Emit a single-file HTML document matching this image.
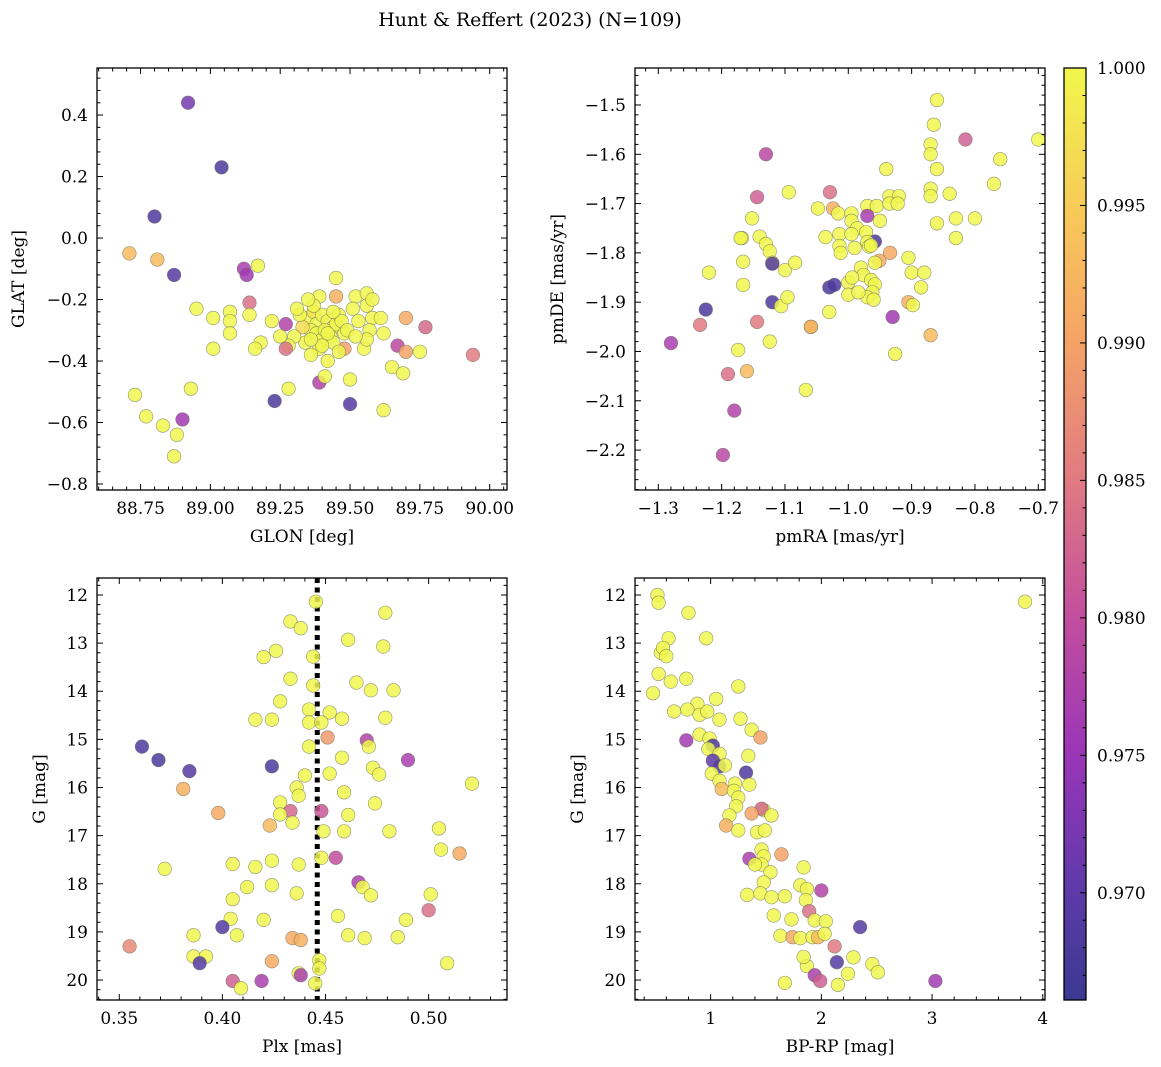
<!DOCTYPE html>
<html><head><meta charset="utf-8">
<style>
html,body{margin:0;padding:0;background:#fff;}
svg{display:block;font-family:"DejaVu Serif","Liberation Serif",serif;}
</style></head>
<body>
<svg id="fig" width="1161" height="1067" viewBox="0 0 1161 1067" xmlns="http://www.w3.org/2000/svg">
<rect x="0" y="0" width="1161" height="1067" fill="#fff"/>
<text x="530" y="26" text-anchor="middle" font-size="19">Hunt &amp; Reffert (2023) (N=109)</text>
</svg>
<script>
// ---- Panel 1: GLON / GLAT ----
const glonVals=[88.92,89.04,88.80,88.71,88.81,88.87,89.12,89.13,89.17,89.14,88.95,89.01,89.07,89.14,89.07,89.22,89.27,89.18,89.16,89.01,89.07,89.45,89.39,89.45,89.52,89.56,89.70,89.77,89.67,89.70,89.75,89.65,89.69,89.94,89.39,89.41,89.50,89.23,89.50,89.62,89.28,88.73,88.77,88.83,88.90,88.93,88.88,88.87,89.48,89.55,89.56,89.58,89.57,89.61,89.62,89.56,89.35,89.37,89.38,89.40,89.42,89.44,89.36,89.38,89.40,89.43,89.45,89.34,89.39,89.41,89.44,89.33,89.36,89.46,89.48,89.30,89.32,89.42,89.37,89.47,89.51,89.53,89.28,89.25,89.44,89.46,89.40,89.35,89.42,89.49,89.31,89.58,89.36,89.27,89.52];
const glatVals=[0.44,0.23,0.07,-0.05,-0.07,-0.12,-0.10,-0.12,-0.09,-0.21,-0.23,-0.26,-0.24,-0.25,-0.27,-0.27,-0.28,-0.34,-0.36,-0.36,-0.31,-0.19,-0.19,-0.13,-0.19,-0.18,-0.26,-0.29,-0.35,-0.37,-0.37,-0.42,-0.44,-0.38,-0.47,-0.45,-0.46,-0.53,-0.54,-0.56,-0.49,-0.51,-0.58,-0.61,-0.59,-0.49,-0.64,-0.71,-0.36,-0.36,-0.22,-0.26,-0.30,-0.26,-0.31,-0.33,-0.26,-0.24,-0.28,-0.25,-0.27,-0.29,-0.30,-0.31,-0.33,-0.32,-0.28,-0.34,-0.36,-0.30,-0.34,-0.29,-0.38,-0.25,-0.31,-0.32,-0.25,-0.40,-0.22,-0.27,-0.23,-0.27,-0.35,-0.32,-0.24,-0.37,-0.35,-0.20,-0.31,-0.30,-0.23,-0.20,-0.33,-0.36,-0.32];
const glonProb=[0.972,0.968,0.968,0.993,0.993,0.969,0.977,0.976,1,0.984,1,1,1,1,1,1,0.978,1,1,1,1,0.992,1,1,1,1,0.991,0.983,0.979,0.990,1,1,1,0.985,0.978,1,1,0.968,0.969,1,1,1,1,1,0.976,1,1,1,0.990,1,1,1,1,1,1,1,1,0.998,1,1,1,1,1,1,1,1,1,1,1,1,1,0.997,1,1,1,1,1,1,1,1,1,1,1,1,1,1,1,1,1,1,1,1,1,0.984,1];

// ---- Panel 2: pmRA / pmDE ----
const pmraVals=[-0.86,-0.865,-0.70,-0.815,-0.76,-0.87,-0.87,-0.86,-0.94,-0.87,-0.84,-0.77,-0.80,-0.83,-0.83,-0.86,-0.935,-0.92,-1.144,-1.094,-1.029,-1.13,-1.048,-1.024,-1.016,-0.97,-0.955,-0.935,-0.922,-0.87,-0.97,-0.995,-0.995,-0.95,-1.152,-0.986,-0.972,-1.036,-1.014,-0.995,-0.958,-1.014,-1.012,-0.99,-0.97,-0.967,-0.964,-0.934,-0.951,-0.958,-0.905,-1.168,-1.166,-1.14,-1.13,-1.124,-1.12,-1.12,-1.10,-1.084,-0.98,-0.976,-0.964,-1.0,-0.994,-0.958,-0.962,-0.97,-1.03,-1.022,-1.0,-0.984,-0.96,-0.90,-0.88,-0.885,-0.905,-1.12,-1.106,-1.096,-1.03,-1.059,-0.93,-1.144,-1.166,-1.22,-1.225,-1.234,-1.28,-1.17,-1.174,-1.16,-1.19,-1.18,-1.198,-1.067,-1.124,-1.059,-0.926,-0.87,-0.898];
const pmdeVals=[-1.49,-1.54,-1.57,-1.57,-1.61,-1.58,-1.60,-1.63,-1.63,-1.67,-1.68,-1.66,-1.73,-1.73,-1.77,-1.74,-1.685,-1.685,-1.687,-1.677,-1.677,-1.60,-1.71,-1.71,-1.72,-1.705,-1.705,-1.70,-1.70,-1.685,-1.725,-1.72,-1.735,-1.735,-1.73,-1.75,-1.758,-1.768,-1.762,-1.762,-1.777,-1.786,-1.80,-1.79,-1.778,-1.787,-1.785,-1.80,-1.816,-1.82,-1.81,-1.77,-1.818,-1.767,-1.782,-1.797,-1.82,-1.822,-1.835,-1.82,-1.83,-1.845,-1.855,-1.86,-1.85,-1.864,-1.88,-1.89,-1.87,-1.865,-1.885,-1.88,-1.895,-1.84,-1.84,-1.87,-1.90,-1.90,-1.908,-1.89,-1.92,-1.95,-1.93,-1.94,-1.865,-1.84,-1.915,-1.946,-1.983,-1.77,-1.997,-2.04,-2.046,-2.12,-2.21,-2.078,-1.98,-1.95,-2.005,-1.967,-1.906];
const pmProb=[1,1,1,0.982,1,1,1,1,1,1,1,1,1,1,1,1,1,1,0.982,1,0.984,0.979,1,0.992,1,1,1,1,1,1,0.977,1,1,1,1,1,1,1,1,1,0.968,1,1,1,1,1,1,0.991,0.991,1,1,1,1,1,1,1,1,0.969,1,1,1,1,1,1,1,1,1,1,0.968,0.968,1,1,1,1,1,1,0.992,0.968,1,1,1,1,0.976,0.985,1,1,0.968,0.985,0.977,1,1,0.993,0.984,0.978,0.979,1,1,0.991,1,0.993,1];

// ---- Panel 3: Plx / G ----
const plxVals=[0.4453,0.479,0.433,0.438,0.426,0.42,0.461,0.478,0.444,0.433,0.444,0.465,0.472,0.483,0.428,0.442,0.452,0.458,0.416,0.424,0.442,0.448,0.479,0.470,0.471,0.451,0.361,0.369,0.384,0.424,0.442,0.490,0.458,0.473,0.476,0.452,0.44,0.521,0.436,0.381,0.437,0.459,0.474,0.428,0.398,0.433,0.428,0.434,0.423,0.448,0.461,0.449,0.459,0.481,0.505,0.506,0.515,0.448,0.455,0.372,0.405,0.416,0.424,0.437,0.466,0.468,0.472,0.412,0.424,0.436,0.405,0.501,0.456,0.404,0.42,0.489,0.40,0.386,0.407,0.461,0.469,0.485,0.434,0.438,0.50,0.355,0.386,0.392,0.389,0.424,0.447,0.509,0.437,0.438,0.405,0.409,0.419,0.445,0.447];
const gPlxVals=[12.14,12.37,12.55,12.69,13.16,13.29,12.93,13.07,13.28,13.74,13.88,13.82,13.98,13.98,14.21,14.38,14.44,14.57,14.59,14.59,14.65,14.65,14.55,15.02,15.15,14.96,15.15,15.43,15.66,15.56,15.15,15.43,15.38,15.59,15.73,15.71,15.75,15.92,16.0,16.03,16.17,16.1,16.33,16.31,16.53,16.49,16.56,16.73,16.79,16.49,16.57,16.91,16.91,16.91,16.85,17.29,17.37,17.46,17.46,17.69,17.59,17.65,17.52,17.6,17.97,18.07,18.24,18.07,18.03,18.2,18.32,18.22,18.67,18.73,18.75,18.75,18.9,19.07,19.07,19.07,19.13,19.11,19.13,19.17,18.55,19.3,19.51,19.51,19.65,19.61,19.59,19.65,19.86,19.9,20.02,20.17,20.02,20.07,19.76];
const plxProb=[1,1,1,1,1,1,1,1,1,1,1,1,1,1,1,1,1,1,1,1,1,1,1,0.978,1,0.989,0.968,0.968,0.969,0.968,1,0.977,1,1,1,1,1,1,1,0.992,1,1,1,1,0.991,0.983,1,1,0.993,0.981,1,1,1,1,1,1,0.991,1,0.98,1,1,1,1,1,0.977,1,1,1,1,1,1,1,1,1,1,1,0.969,1,1,1,1,1,0.991,0.992,0.984,0.987,1,1,0.969,0.991,1,1,1,0.977,0.982,1,0.977,1,1];
const plxMedian=[0.446];

// ---- Panel 4: BP-RP / G ----
const bprpVals=[3.84,0.52,0.53,0.80,0.62,0.96,0.55,0.57,0.60,0.53,0.64,0.78,1.25,0.48,1.05,0.88,0.67,0.79,0.90,0.97,1.08,1.27,0.78,0.90,0.99,1.37,1.45,1.02,0.98,1.08,1.02,1.08,1.13,1.34,1.01,1.32,1.08,1.22,1.35,1.10,1.21,1.25,1.23,1.48,1.46,1.55,1.17,1.37,1.14,1.25,1.42,1.49,1.46,1.48,1.46,1.64,1.35,1.40,1.84,1.54,1.81,1.48,1.87,2.0,1.45,1.55,1.67,1.33,1.86,1.89,1.57,1.73,1.94,2.04,2.35,1.63,1.74,1.81,1.92,1.97,2.03,2.12,2.29,2.14,2.46,1.87,1.84,2.51,2.24,1.94,1.99,2.15,1.67,3.03];
const gCmdVals=[12.14,12.0,12.16,12.37,12.9,12.9,13.2,13.1,13.27,13.64,13.8,13.74,13.9,14.04,14.16,14.26,14.42,14.38,14.49,14.42,14.59,14.57,15.02,14.9,14.98,14.8,14.96,15.13,15.2,15.3,15.44,15.56,15.54,15.34,15.71,15.69,15.86,15.92,15.94,16.03,16.07,16.21,16.39,16.47,16.44,16.58,16.58,16.54,16.79,16.89,16.93,16.89,17.29,17.43,17.6,17.39,17.48,17.6,17.66,17.76,18.03,17.97,18.11,18.14,18.2,18.28,18.26,18.23,18.34,18.57,18.66,18.74,18.76,18.78,18.9,19.08,19.11,19.13,19.11,19.11,19.04,19.3,19.53,19.63,19.67,19.71,19.52,19.84,19.87,19.9,20.02,20.1,20.06,20.02];
const cmdProb=[1,1,1,1,1,1,1,1,1,1,1,1,1,1,1,1,1,1,1,1,1,1,0.976,1,1,1,0.990,0.968,1,1,0.970,0.969,1,1,1,0.968,1,1,1,0.993,1,1,1,1,0.983,1,1,0.990,0.992,1,1,1,1,1,1,0.990,0.977,1,1,1,1,1,1,0.978,1,1,1,1,1,0.984,1,1,1,1,0.969,1,0.991,1,1,0.993,1,0.985,1,0.969,1,1,1,1,1,0.977,0.982,1,1,0.976];

// ---- Colorbar ----
const cbTicks=[1.000,0.995,0.990,0.985,0.980,0.975,0.970];
const cbMin=0.9661, cbMax=1.0;

const NS="http://www.w3.org/2000/svg";
const svg=document.getElementById('fig');
function el(tag,attrs,parent){const e=document.createElementNS(NS,tag);for(const k in attrs)e.setAttribute(k,attrs[k]);(parent||svg).appendChild(e);return e;}

const stops=[[0.9661,[59,57,146]],[0.970,[92,58,168]],[0.975,[154,53,184]],[0.980,[194,78,158]],[0.985,[224,122,130]],[0.990,[245,162,102]],[0.995,[248,203,88]],[1.000,[240,247,76]]];
function cmap(v){
  if(v<=stops[0][0])return 'rgb('+stops[0][1].join(',')+')';
  for(let i=1;i<stops.length;i++){if(v<=stops[i][0]){const a=stops[i-1],b=stops[i];const t=(v-a[0])/(b[0]-a[0]);const c=a[1].map((x,j)=>Math.round(x+(b[1][j]-x)*t));return 'rgb('+c.join(',')+')';}}
  return 'rgb('+stops[stops.length-1][1].join(',')+')';
}
function fmt(v,d){let s=Math.abs(v).toFixed(d);return (v< -1e-9?'\u2212':'')+s;}

function panel(cfg){
  const g=el('g',{});
  
  
  const L=cfg.box[0],T=cfg.box[1],R=cfg.box[2],B=cfg.box[3];
  const sx=v=>L+(v-cfg.xr[0])/(cfg.xr[1]-cfg.xr[0])*(R-L);
  const sy=cfg.yinv? (v=>T+(v-cfg.yr[0])/(cfg.yr[1]-cfg.yr[0])*(B-T)) : (v=>B-(v-cfg.yr[0])/(cfg.yr[1]-cfg.yr[0])*(B-T));
  const clip=el('clipPath',{id:'clip-'+cfg.name},g);
  el('rect',{x:L,y:T,width:R-L,height:B-T},clip);
  const pts=el('g',{'clip-path':'url(#clip-'+cfg.name+')'},g);
  if(cfg.vline){
    const vl=el('line',{x1:sx(cfg.vline[0]),x2:sx(cfg.vline[0]),y1:T,y2:B,stroke:'#000','stroke-width':5,'stroke-dasharray':'5,4.5'},pts);
    
    
  }
  for(let i=0;i<cfg.xs.length;i++){
    const c=el('circle',{cx:sx(cfg.xs[i]),cy:sy(cfg.ys[i]),r:6.8,fill:cmap(cfg.ps[i]),'fill-opacity':0.85,stroke:'#6b6b5a','stroke-width':0.6,'stroke-opacity':0.7},pts);
    
    
  }
  el('rect',{x:L,y:T,width:R-L,height:B-T,fill:'none',stroke:'#000','stroke-width':1.3},g);
  // x ticks
  const xs0=Math.ceil(cfg.xr[0]/cfg.xminor-1e-6);
  for(let k=xs0;k*cfg.xminor<=cfg.xr[1]+1e-9;k++){
    const v=k*cfg.xminor;const x=sx(v);
    const major=Math.abs(v/cfg.xmajor-Math.round(v/cfg.xmajor))<1e-6;
    const len=major?6:3.5;
    el('line',{x1:x,x2:x,y1:B,y2:B-len,stroke:'#000','stroke-width':1},g);
    el('line',{x1:x,x2:x,y1:T,y2:T+len,stroke:'#000','stroke-width':1},g);
    if(major){const t=el('text',{x:x,y:B+24,'text-anchor':'middle','font-size':17},g);t.textContent=fmt(v,cfg.xdec);
      }
  }
  const ys0=Math.ceil(Math.min(cfg.yr[0],cfg.yr[1])/cfg.yminor-1e-6);
  const yhi=Math.max(cfg.yr[0],cfg.yr[1]);
  for(let k=ys0;k*cfg.yminor<=yhi+1e-9;k++){
    const v=k*cfg.yminor;const y=sy(v);
    const major=Math.abs(v/cfg.ymajor-Math.round(v/cfg.ymajor))<1e-6;
    const len=major?6:3.5;
    el('line',{x1:L,x2:L+len,y1:y,y2:y,stroke:'#000','stroke-width':1},g);
    el('line',{x1:R,x2:R-len,y1:y,y2:y,stroke:'#000','stroke-width':1},g);
    if(major){const t=el('text',{x:L-9,y:y+6,'text-anchor':'end','font-size':17},g);t.textContent=fmt(v,cfg.ydec);
      }
  }
  const xl=el('text',{x:(L+R)/2,y:B+52,'text-anchor':'middle','font-size':17},g);xl.textContent=cfg.xlabel;
  
  const yl=el('text',{x:0,y:0,'text-anchor':'middle','font-size':17,transform:'translate('+cfg.ylx+','+((T+B)/2)+') rotate(-90)'},g);yl.textContent=cfg.ylabel;
  
}

panel({name:'glon-glat-panel',box:[97,68,507,490],xr:[88.594,90.062],yr:[-0.8195,0.553],xmajor:0.25,xminor:0.05,ymajor:0.2,yminor:0.04,xdec:2,ydec:1,xs:glonVals,ys:glatVals,ps:glonProb,xlabel:'GLON [deg]',ylabel:'GLAT [deg]',ylx:24});
panel({name:'proper-motion-panel',box:[635,68,1045,490],xr:[-1.3368,-0.6894],yr:[-2.281,-1.425],xmajor:0.1,xminor:0.02,ymajor:0.1,yminor:0.02,xdec:1,ydec:1,xs:pmraVals,ys:pmdeVals,ps:pmProb,xlabel:'pmRA [mas/yr]',ylabel:'pmDE [mas/yr]',ylx:563});
panel({name:'parallax-mag-panel',box:[97,578,507,1000],xr:[0.3392,0.538],yr:[11.647,20.415],yinv:true,xmajor:0.05,xminor:0.01,ymajor:1,yminor:0.2,xdec:2,ydec:0,xs:plxVals,ys:gPlxVals,ps:plxProb,vline:plxMedian,xlabel:'Plx [mas]',ylabel:'G [mag]',ylx:45});
panel({name:'cmd-panel',box:[635,578,1045,1000],xr:[0.317,4.02],yr:[11.647,20.415],yinv:true,xmajor:1,xminor:0.2,ymajor:1,yminor:0.2,xdec:0,ydec:0,xs:bprpVals,ys:gCmdVals,ps:cmdProb,xlabel:'BP-RP [mag]',ylabel:'G [mag]',ylx:583});

// colorbar
(function(){
  const L=1064,R=1086,T=68,B=1000;
  const g=el('g',{});
  
  
  const defs=el('defs',{},g);
  const lg=el('linearGradient',{id:'cbgrad',x1:0,y1:1,x2:0,y2:0},defs);
  for(const s of stops){el('stop',{offset:((s[0]-cbMin)/(cbMax-cbMin)),'stop-color':'rgb('+s[1].join(',')+')'},lg);}
  el('rect',{x:L,y:T,width:R-L,height:B-T,fill:'url(#cbgrad)',stroke:'#000','stroke-width':1.3},g);
  const sy=v=>B-(v-cbMin)/(cbMax-cbMin)*(B-T);
  for(let k=Math.ceil(cbMin/0.001);k*0.001<=cbMax+1e-9;k++){
    const v=k*0.001;const y=sy(v);const major=k%5===0;
    el('line',{x1:R,x2:R-(major?6:3.5),y1:y,y2:y,stroke:'#000','stroke-width':1},g);
  }
  for(const v of cbTicks){
    const t=el('text',{x:R+11,y:sy(v)+6,'font-size':17},g);t.textContent=v.toFixed(3);
    
  }
})();
</script>
</body></html>
